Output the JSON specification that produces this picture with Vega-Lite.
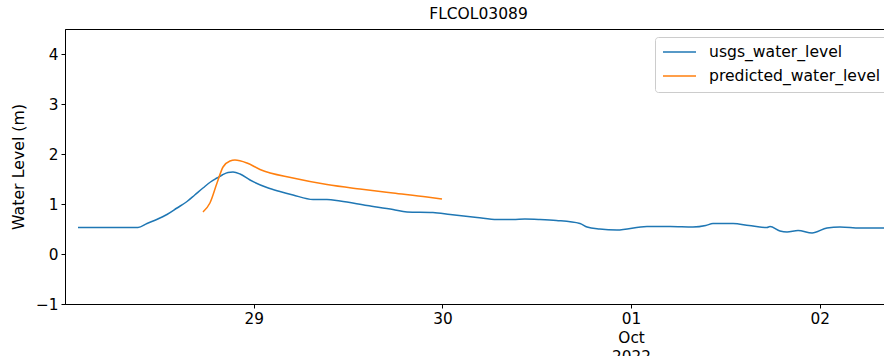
{
  "$schema": "https://vega.github.io/schema/vega-lite/v6.json",
  "autosize": {"type": "none"},
  "width": 819,
  "height": 275,
  "padding": {"left": 65, "top": 29, "right": 0, "bottom": 52},
  "config": {
    "font": "DejaVu Sans",
    "view": {"stroke": "black", "strokeWidth": 1},
    "axis": {"grid": false, "domainColor": "black", "tickColor": "black", "tickSize": 4, "labelFontSize": 15.3, "labelColor": "black", "titleFontSize": 15.8, "titleFontWeight": "normal", "titleColor": "black", "labelPadding": 3, "labelFont": "DejaVu Sans", "titleFont": "DejaVu Sans"}
  },
  "title": {"text": "FLCOL03089", "fontSize": 15.5, "fontWeight": "normal", "font": "DejaVu Sans", "color": "black", "dx": 4, "offset": 7},
  "data": {"values": [
    {"time": "2022-09-28T01:39:00Z", "level": 0.53, "series": "usgs_water_level"},
    {"time": "2022-09-28T05:00:00Z", "level": 0.53, "series": "usgs_water_level"},
    {"time": "2022-09-28T09:17:00Z", "level": 0.53, "series": "usgs_water_level"},
    {"time": "2022-09-28T10:26:00Z", "level": 0.61, "series": "usgs_water_level"},
    {"time": "2022-09-28T11:40:00Z", "level": 0.69, "series": "usgs_water_level"},
    {"time": "2022-09-28T12:58:00Z", "level": 0.79, "series": "usgs_water_level"},
    {"time": "2022-09-28T14:15:00Z", "level": 0.92, "series": "usgs_water_level"},
    {"time": "2022-09-28T15:31:00Z", "level": 1.05, "series": "usgs_water_level"},
    {"time": "2022-09-28T16:30:00Z", "level": 1.18, "series": "usgs_water_level"},
    {"time": "2022-09-28T17:33:00Z", "level": 1.32, "series": "usgs_water_level"},
    {"time": "2022-09-28T18:30:00Z", "level": 1.44, "series": "usgs_water_level"},
    {"time": "2022-09-28T19:20:00Z", "level": 1.52, "series": "usgs_water_level"},
    {"time": "2022-09-28T20:00:00Z", "level": 1.58, "series": "usgs_water_level"},
    {"time": "2022-09-28T20:44:00Z", "level": 1.63, "series": "usgs_water_level"},
    {"time": "2022-09-28T21:22:00Z", "level": 1.64, "series": "usgs_water_level"},
    {"time": "2022-09-28T22:16:00Z", "level": 1.60, "series": "usgs_water_level"},
    {"time": "2022-09-28T23:32:00Z", "level": 1.48, "series": "usgs_water_level"},
    {"time": "2022-09-29T01:41:00Z", "level": 1.33, "series": "usgs_water_level"},
    {"time": "2022-09-29T03:20:00Z", "level": 1.25, "series": "usgs_water_level"},
    {"time": "2022-09-29T05:00:00Z", "level": 1.18, "series": "usgs_water_level"},
    {"time": "2022-09-29T07:33:00Z", "level": 1.09, "series": "usgs_water_level"},
    {"time": "2022-09-29T09:19:00Z", "level": 1.09, "series": "usgs_water_level"},
    {"time": "2022-09-29T10:59:00Z", "level": 1.06, "series": "usgs_water_level"},
    {"time": "2022-09-29T14:25:00Z", "level": 0.97, "series": "usgs_water_level"},
    {"time": "2022-09-29T17:43:00Z", "level": 0.89, "series": "usgs_water_level"},
    {"time": "2022-09-29T19:30:00Z", "level": 0.84, "series": "usgs_water_level"},
    {"time": "2022-09-29T22:48:00Z", "level": 0.83, "series": "usgs_water_level"},
    {"time": "2022-09-30T01:00:00Z", "level": 0.79, "series": "usgs_water_level"},
    {"time": "2022-09-30T04:24:00Z", "level": 0.73, "series": "usgs_water_level"},
    {"time": "2022-09-30T06:57:00Z", "level": 0.69, "series": "usgs_water_level"},
    {"time": "2022-09-30T09:00:00Z", "level": 0.69, "series": "usgs_water_level"},
    {"time": "2022-09-30T10:30:00Z", "level": 0.70, "series": "usgs_water_level"},
    {"time": "2022-09-30T12:25:00Z", "level": 0.69, "series": "usgs_water_level"},
    {"time": "2022-09-30T14:30:00Z", "level": 0.67, "series": "usgs_water_level"},
    {"time": "2022-09-30T17:30:00Z", "level": 0.61, "series": "usgs_water_level"},
    {"time": "2022-09-30T18:24:00Z", "level": 0.54, "series": "usgs_water_level"},
    {"time": "2022-09-30T20:00:00Z", "level": 0.50, "series": "usgs_water_level"},
    {"time": "2022-09-30T22:12:00Z", "level": 0.48, "series": "usgs_water_level"},
    {"time": "2022-10-01T02:01:00Z", "level": 0.55, "series": "usgs_water_level"},
    {"time": "2022-10-01T05:00:00Z", "level": 0.55, "series": "usgs_water_level"},
    {"time": "2022-10-01T07:52:00Z", "level": 0.54, "series": "usgs_water_level"},
    {"time": "2022-10-01T09:30:00Z", "level": 0.57, "series": "usgs_water_level"},
    {"time": "2022-10-01T10:25:00Z", "level": 0.61, "series": "usgs_water_level"},
    {"time": "2022-10-01T12:58:00Z", "level": 0.61, "series": "usgs_water_level"},
    {"time": "2022-10-01T15:00:00Z", "level": 0.57, "series": "usgs_water_level"},
    {"time": "2022-10-01T17:17:00Z", "level": 0.53, "series": "usgs_water_level"},
    {"time": "2022-10-01T17:40:00Z", "level": 0.55, "series": "usgs_water_level"},
    {"time": "2022-10-01T18:56:00Z", "level": 0.46, "series": "usgs_water_level"},
    {"time": "2022-10-01T19:50:00Z", "level": 0.44, "series": "usgs_water_level"},
    {"time": "2022-10-01T21:14:00Z", "level": 0.47, "series": "usgs_water_level"},
    {"time": "2022-10-01T23:01:00Z", "level": 0.42, "series": "usgs_water_level"},
    {"time": "2022-10-02T00:55:00Z", "level": 0.52, "series": "usgs_water_level"},
    {"time": "2022-10-02T02:34:00Z", "level": 0.54, "series": "usgs_water_level"},
    {"time": "2022-10-02T05:07:00Z", "level": 0.52, "series": "usgs_water_level"},
    {"time": "2022-10-02T08:10:00Z", "level": 0.52, "series": "usgs_water_level"},
    {"time": "2022-10-02T10:00:00Z", "level": 0.52, "series": "usgs_water_level"},
    {"time": "2022-09-28T17:33:00Z", "level": 0.84, "series": "predicted_water_level"},
    {"time": "2022-09-28T18:26:00Z", "level": 1.02, "series": "predicted_water_level"},
    {"time": "2022-09-28T19:20:00Z", "level": 1.42, "series": "predicted_water_level"},
    {"time": "2022-09-28T20:06:00Z", "level": 1.74, "series": "predicted_water_level"},
    {"time": "2022-09-28T20:59:00Z", "level": 1.86, "series": "predicted_water_level"},
    {"time": "2022-09-28T21:37:00Z", "level": 1.88, "series": "predicted_water_level"},
    {"time": "2022-09-28T23:09:00Z", "level": 1.82, "series": "predicted_water_level"},
    {"time": "2022-09-29T00:48:00Z", "level": 1.69, "series": "predicted_water_level"},
    {"time": "2022-09-29T05:00:00Z", "level": 1.52, "series": "predicted_water_level"},
    {"time": "2022-09-29T09:19:00Z", "level": 1.39, "series": "predicted_water_level"},
    {"time": "2022-09-29T13:31:00Z", "level": 1.30, "series": "predicted_water_level"},
    {"time": "2022-09-29T17:43:00Z", "level": 1.22, "series": "predicted_water_level"},
    {"time": "2022-09-29T22:03:00Z", "level": 1.14, "series": "predicted_water_level"},
    {"time": "2022-09-29T23:57:00Z", "level": 1.10, "series": "predicted_water_level"}
  ]},
  "mark": {"type": "line", "strokeWidth": 1.5, "interpolate": "monotone", "clip": true},
  "encoding": {
    "x": {
      "field": "time", "type": "temporal",
      "scale": {"type": "utc", "domain": [{"year": 2022, "month": 9, "date": 28, "hours": 0, "utc": true}, {"year": 2022, "month": 10, "date": 2, "hours": 8, "minutes": 10, "utc": true}]},
      "axis": {
        "title": null,
        "values": [
          {"year": 2022, "month": 9, "date": 29, "utc": true},
          {"year": 2022, "month": 9, "date": 30, "utc": true},
          {"year": 2022, "month": 10, "date": 1, "utc": true},
          {"year": 2022, "month": 10, "date": 2, "utc": true}
        ],
        "labelExpr": "utcdate(datum.value) == 1 ? ['01', 'Oct', '2022'] : utcFormat(datum.value, '%d')",
        "labelLineHeight": 19,
        "labelBaseline": "top",
        "labelFlush": false,
        "labelOverlap": false
      }
    },
    "y": {
      "field": "level", "type": "quantitative",
      "scale": {"domain": [-1, 4.5], "nice": false, "zero": false},
      "axis": {"title": "Water Level (m)", "values": [-1, 0, 1, 2, 3, 4], "labelExpr": "replace(format(datum.value, 'd'), '-', '\u2212')", "titlePadding": 9}
    },
    "color": {
      "field": "series", "type": "nominal",
      "scale": {"domain": ["usgs_water_level", "predicted_water_level"], "range": ["#1f77b4", "#ff7f0e"]},
      "legend": {
        "title": null, "orient": "none", "legendX": 590, "legendY": 8,
        "symbolType": "stroke", "symbolSize": 1089, "symbolStrokeWidth": 1.5,
        "labelFontSize": 15.6, "labelColor": "black", "labelFont": "DejaVu Sans", "labelLimit": 400,
        "strokeColor": "#cccccc", "fillColor": "white", "cornerRadius": 3, "padding": 7,
        "clipHeight": 16, "rowPadding": 7, "labelOffset": 12
      }
    }
  }
}
